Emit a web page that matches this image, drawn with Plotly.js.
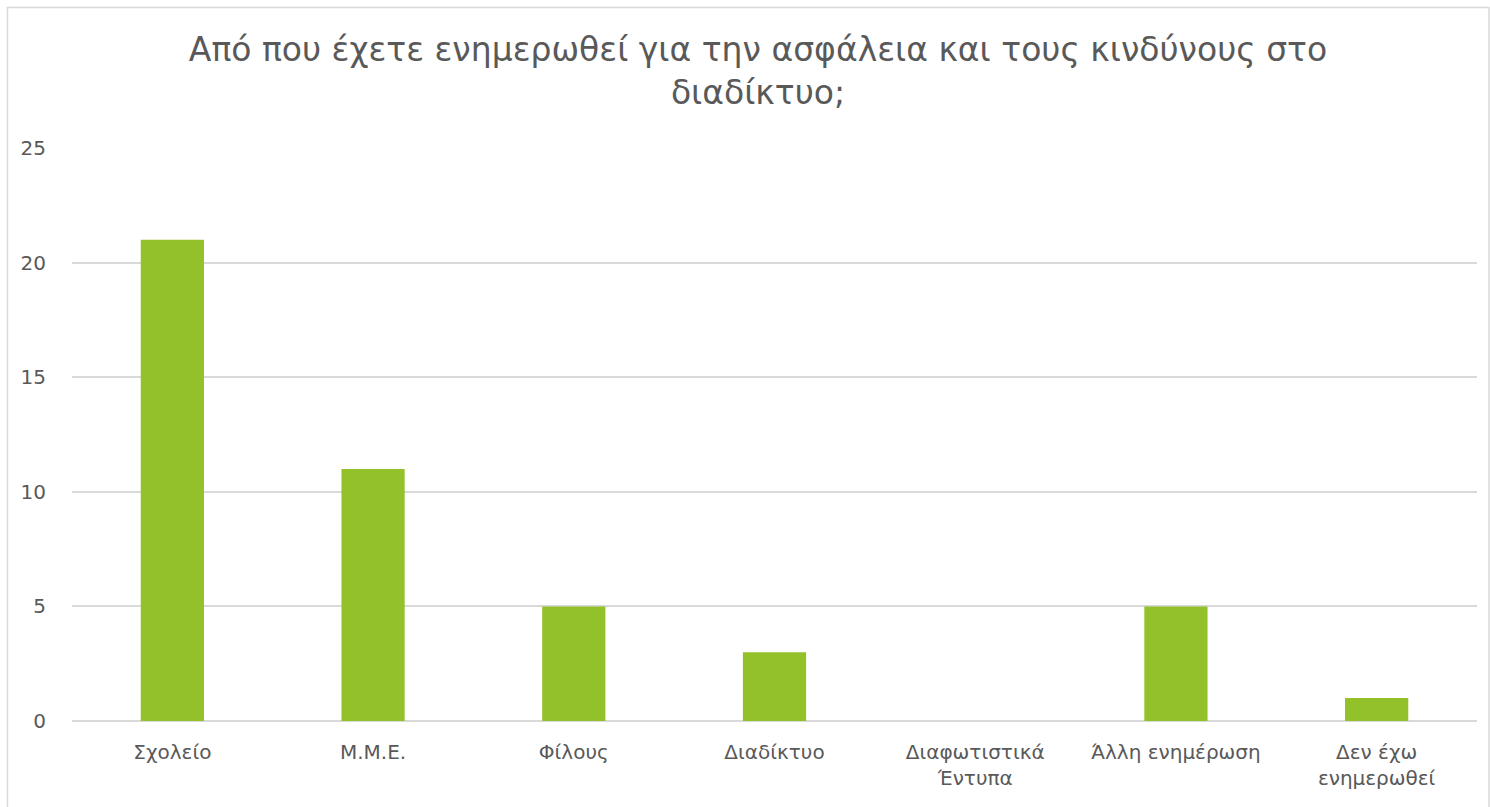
<!DOCTYPE html>
<html>
<head>
<meta charset="utf-8">
<script src="https://cdn.plot.ly/plotly-3.0.1.min.js"></script>
<style>
html,body{margin:0;padding:0;background:#fff;}
#chart{width:1490px;height:807px;}
</style>
</head>
<body>
<div id="chart"></div>
<script>
const titleText = "Από που έχετε ενημερωθεί για την ασφάλεια και τους κινδύνους στο<br>διαδίκτυο;";
const categories = ["Σχολείο", "Μ.Μ.Ε.", "Φίλους", "Διαδίκτυο", "Διαφωτιστικά<br>Έντυπα", "Άλλη ενημέρωση", "Δεν έχω<br>ενημερωθεί"];
const values = [21, 11, 5, 3, 0, 5, 1];
const yTicks = [0, 5, 10, 15, 20, 25];

const W = 1490, H = 807;
const L = 72, R = 13, T = 148, B = 86;
const pw = W - L - R, ph = H - T - B;
function px2x(p){ return (p - L) / pw; }
function py2y(p){ return (H - B - p) / ph; }

const font = "'DejaVu Sans', sans-serif";

Plotly.newPlot('chart', [{
  type: 'bar',
  x: categories,
  y: values,
  marker: {color: '#92c12a'},
  width: 0.315,
  hoverinfo: 'x+y'
}], {
  width: W, height: H,
  margin: {l: L, r: R, t: T, b: B, pad: 0},
  paper_bgcolor: '#fff', plot_bgcolor: '#fff',
  font: {family: font, color: '#595959', size: 20},
  title: {
    text: titleText,
    font: {family: font, size: 33, color: '#595959'},
    xref: 'container', x: 758 / W, xanchor: 'center',
    yref: 'container', y: 1 - 61 / H, yanchor: 'top'
  },
  showlegend: false,
  xaxis: {
    type: 'category',
    showgrid: false,
    showline: false,
    zeroline: false,
    ticks: 'outside', ticklen: 13, tickcolor: 'rgba(0,0,0,0)',
    tickfont: {family: font, size: 20, color: '#595959'},
    fixedrange: true
  },
  yaxis: {
    range: [0, 25],
    tickvals: yTicks,
    ticktext: yTicks.map(String),
    showgrid: true, gridcolor: '#d9d9d9', gridwidth: 1.5,
    zeroline: true, zerolinecolor: '#d9d9d9', zerolinewidth: 1.5,
    showline: false,
    ticks: 'outside', ticklen: 21, tickcolor: 'rgba(0,0,0,0)',
    tickfont: {family: font, size: 20, color: '#595959'},
    fixedrange: true
  },
  shapes: [{
    type: 'rect', xref: 'paper', yref: 'paper',
    x0: px2x(7.5), x1: px2x(1489), y0: py2y(815), y1: py2y(7.5),
    line: {color: '#d9d9d9', width: 1.5},
    fillcolor: 'rgba(0,0,0,0)', layer: 'below'
  }]
}, {displayModeBar: false});
</script>
</body>
</html>
